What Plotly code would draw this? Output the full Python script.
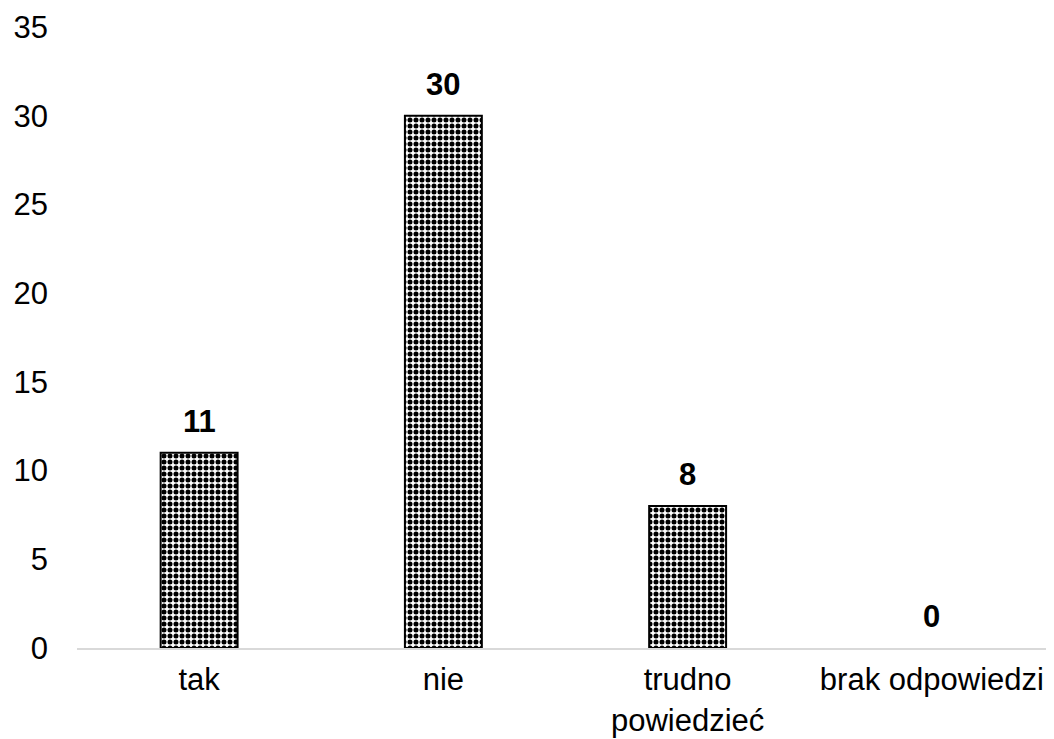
import plotly.graph_objects as go

categories = ["tak", "nie", "trudno<br>powiedzieć", "brak odpowiedzi"]
values = [11, 30, 8, 0]
tick_vals = [0, 5, 10, 15, 20, 25, 30, 35]

FONT = "Liberation Sans, Arial"
FS = 31

fig = go.Figure(go.Bar(
    x=categories, y=values,
    width=0.315,
    marker=dict(
        color="white",
        line=dict(color="black", width=[2 if v > 0 else 0 for v in values]),
        pattern=dict(shape=".", fgcolor="black", bgcolor="white", size=6, solidity=0.55, fillmode="replace"),
    ),
    hoverinfo="x+y",
))

for c, v in zip(categories, values):
    fig.add_annotation(
        x=c, y=v, text=f"<b>{v}</b>", showarrow=False,
        yanchor="bottom", yshift=12,
        font=dict(family=FONT, size=FS, color="#000000"),
    )

# the page body has an 8px margin; margins below compensate for it
fig.update_layout(
    width=1054, height=739,
    margin=dict(l=69, r=8, t=19, b=99, autoexpand=False),
    plot_bgcolor="white", paper_bgcolor="white",
    font=dict(family=FONT, size=FS, color="#000000"),
    showlegend=False,
)
fig.update_xaxes(showline=True, linecolor="#d9d9d9", linewidth=2, ticks="", showgrid=False,
                 tickfont=dict(size=FS), automargin=False, ticklabelstandoff=3)
fig.update_yaxes(range=[0, 35], tickvals=tick_vals, showgrid=False, zeroline=False,
                 showline=False, ticks="", ticklabelstandoff=28, automargin=False,
                 tickfont=dict(size=FS))

fig.write_html("out.html")
